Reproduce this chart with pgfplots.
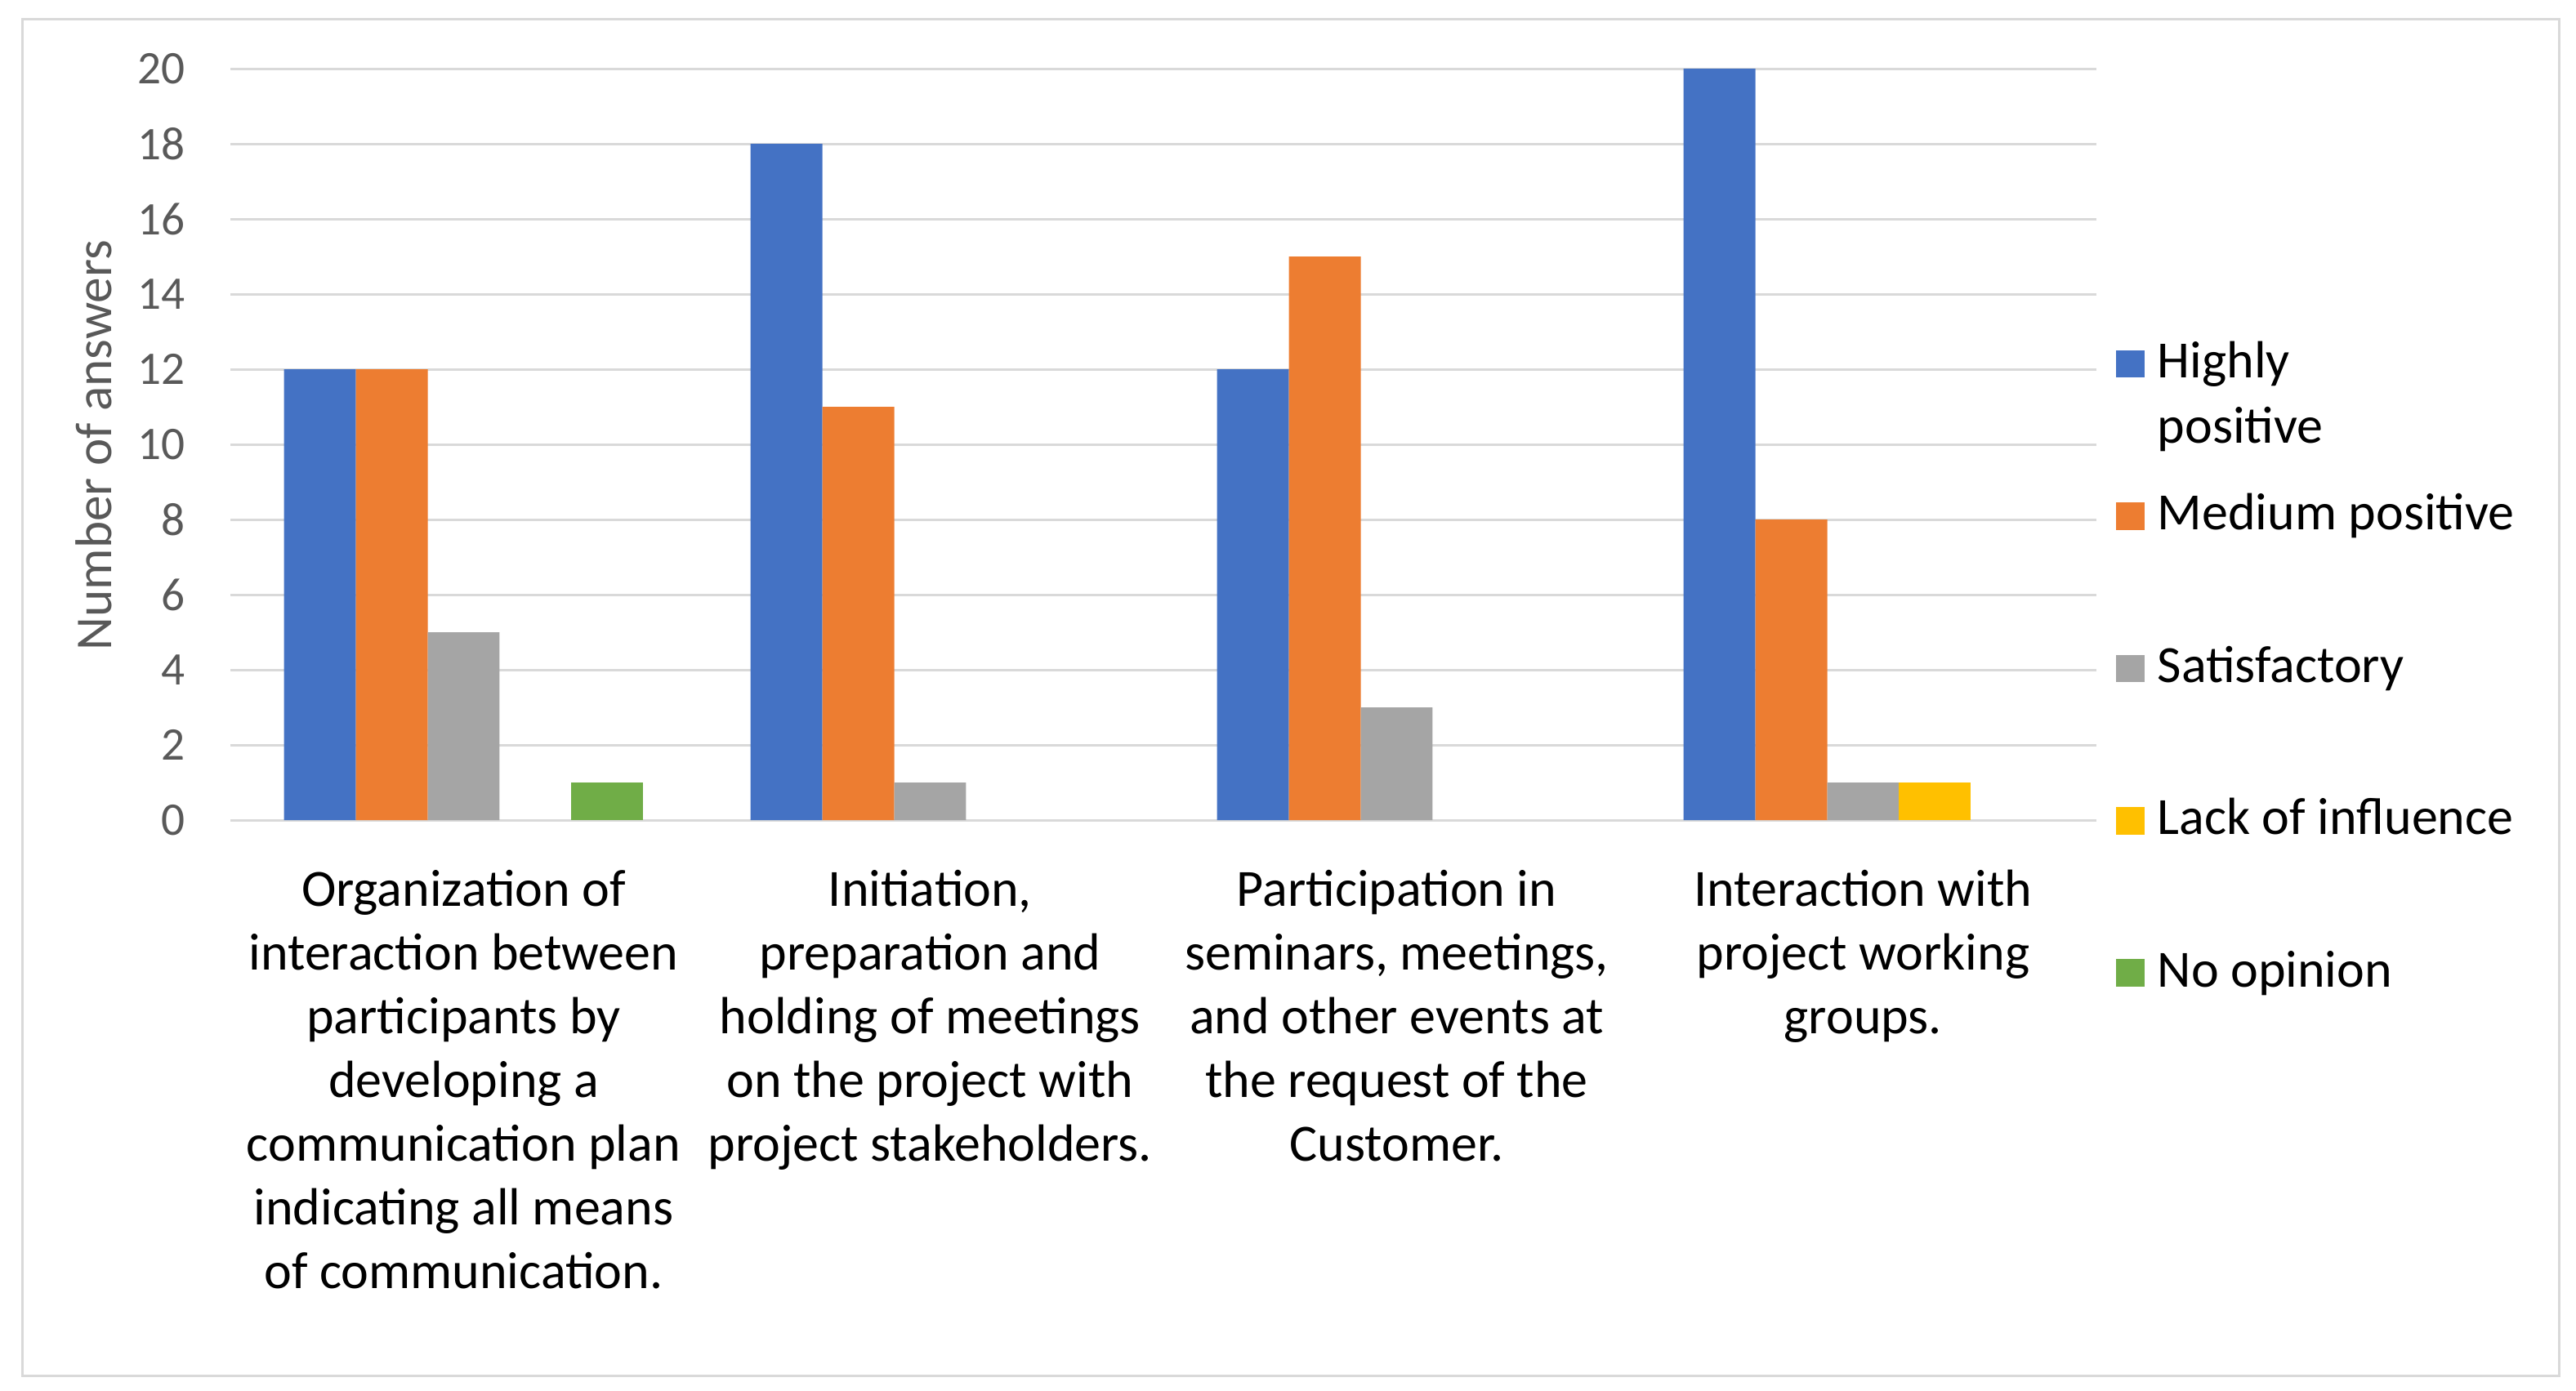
\documentclass[border=0pt]{standalone}
\usepackage{pgfplots}
\pgfplotsset{compat=1.18}
\usepackage{fontspec}
\setmainfont{Carlito}
\definecolor{hp}{HTML}{4472C4}
\definecolor{mp}{HTML}{ED7D31}
\definecolor{sat}{HTML}{A5A5A5}
\definecolor{lack}{HTML}{FFC000}
\definecolor{noop}{HTML}{70AD47}
\definecolor{gridc}{HTML}{D9D9D9}
\definecolor{tickc}{HTML}{595959}
\begin{document}
\begin{tikzpicture}
\useasboundingbox (-70.5pt,-174.75pt) rectangle (717.75pt,251pt);
\draw[gridc, line width=0.75pt] (-63.5pt,-170pt) rectangle (712.5pt,245pt);
\begin{axis}[
  at={(0pt,0pt)}, anchor=south west,
  width=571pt, height=230pt, scale only axis,
  xmin=-0.5, xmax=3.5, ymin=0, ymax=20,
  axis line style={draw=none},
  ytick={0,2,...,20},
  ymajorgrids, grid style={gridc, line width=0.75pt},
  major tick length=0pt,
  /pgf/number format/assume math mode=true,
  xtick={0,1,2,3},
  xticklabels={{Organization of\\interaction between\\participants by\\developing a\\communication plan\\indicating all means\\of communication.},
    {Initiation,\\preparation and\\holding of meetings\\on the project with\\project stakeholders.},
    {Participation in\\seminars, meetings,\\and other events at\\the request of the\\Customer.},
    {Interaction with\\project working\\groups.}},
  xticklabel style={font=\fontsize{16}{19.5}\selectfont, text=black, inner sep=0pt, align=center, anchor=north, yshift=-15pt},
  yticklabel style={font=\fontsize{14.3}{17}\selectfont, text=tickc, inner sep=0pt, anchor=east, xshift=-13.7pt},
  every axis y label/.style={at={(axis description cs:-0.0636,0.4987)}, rotate=90, anchor=base, font=\fontsize{15.8}{18}\selectfont, text=tickc},
  ylabel={Number of answers},
  legend style={at={(axis description cs:1.0105,0.6365)}, anchor=north west, draw=none, fill=none, inner sep=0pt, outer sep=0pt,
    font=\fontsize{16}{20}\selectfont, row sep=32.6pt, column sep=3.9pt,
    nodes={inner sep=0pt, text height=11pt, text depth=3pt}},
  legend cell align=left,
]
\addplot[ybar, bar width=0.154, bar shift=-0.308, fill=hp, draw=none,
  legend image code/.code={\fill[hp] (0pt,-4pt) rectangle (8.8pt,4.4pt);}]
  coordinates {(0,12) (1,18) (2,12) (3,20)};
\addlegendentry{\begin{tabular}[t]{@{}l@{}}Highly\\positive\end{tabular}}
\addplot[ybar, bar width=0.154, bar shift=-0.154, fill=mp, draw=none,
  legend image code/.code={\fill[mp] (0pt,-4pt) rectangle (8.8pt,4.4pt);}]
  coordinates {(0,12) (1,11) (2,15) (3,8)};
\addlegendentry{Medium positive}
\addplot[ybar, bar width=0.154, bar shift=0, fill=sat, draw=none,
  legend image code/.code={\fill[sat] (0pt,-4pt) rectangle (8.8pt,4.4pt);}]
  coordinates {(0,5) (1,1) (2,3) (3,1)};
\addlegendentry{Satisfactory}
\addplot[ybar, bar width=0.154, bar shift=0.154, fill=lack, draw=none,
  legend image code/.code={\fill[lack] (0pt,-4pt) rectangle (8.8pt,4.4pt);}]
  coordinates {(3,1)};
\addlegendentry{Lack of influence}
\addplot[ybar, bar width=0.154, bar shift=0.308, fill=noop, draw=none,
  legend image code/.code={\fill[noop] (0pt,-4pt) rectangle (8.8pt,4.4pt);}]
  coordinates {(0,1)};
\addlegendentry{No opinion}
\end{axis}
\end{tikzpicture}
\end{document}
